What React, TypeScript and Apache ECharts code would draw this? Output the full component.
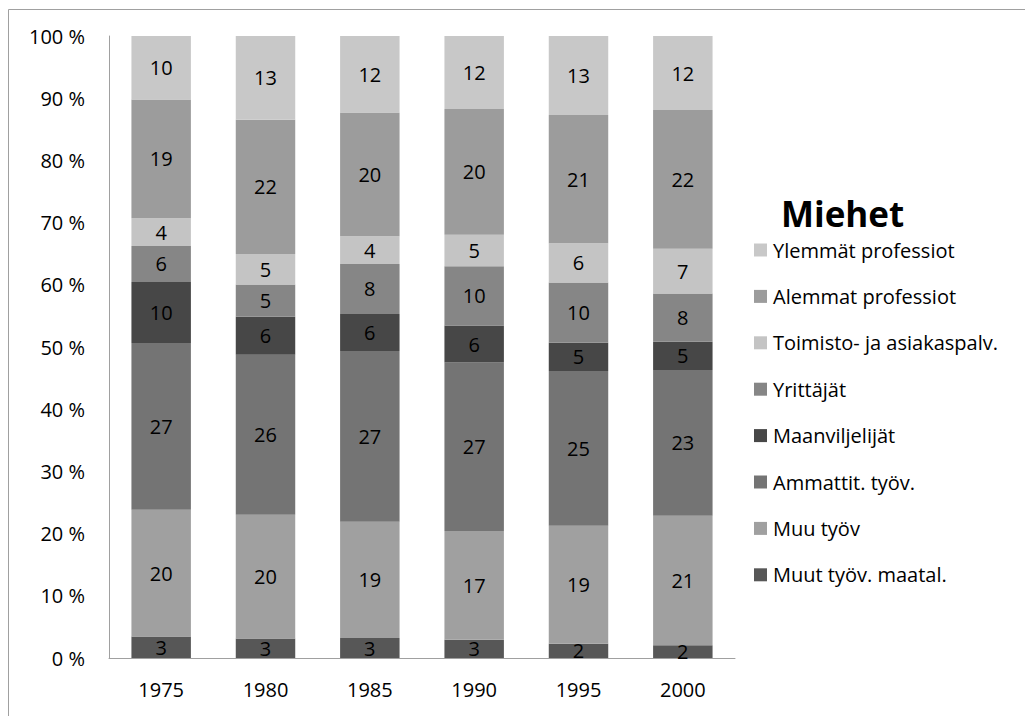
import React, { useEffect, useRef } from "react";
import * as echarts from "echarts";

const years = ["1975", "1980", "1985", "1990", "1995", "2000"];
const yTicks = [0, 10, 20, 30, 40, 50, 60, 70, 80, 90, 100];

// stacked from bottom to top
const muutTyovMaatal = [3.45, 3.15, 3.2, 2.95, 2.3, 2.05];
const muuTyov = [20.4, 19.9, 18.7, 17.45, 18.95, 20.8];
const ammattitTyov = [26.8, 25.7, 27.45, 27.1, 24.9, 23.45];
const maanviljelijat = [9.8, 6.1, 5.95, 5.95, 4.55, 4.55];
const yrittajat = [5.8, 5.2, 8.05, 9.55, 9.65, 7.75];
const toimisto = [4.45, 4.9, 4.45, 5.05, 6.35, 7.2];
const alemmat = [19.1, 21.6, 19.9, 20.2, 20.6, 22.3];
const ylemmat = [10.2, 13.45, 12.3, 11.75, 12.7, 11.9];

const seriesDefs = [
  { name: "Muut työv. maatal.", data: muutTyovMaatal, color: "#575757" },
  { name: "Muu työv", data: muuTyov, color: "#a0a0a0" },
  { name: "Ammattit. työv.", data: ammattitTyov, color: "#747474" },
  { name: "Maanviljelijät", data: maanviljelijat, color: "#474747" },
  { name: "Yrittäjät", data: yrittajat, color: "#868686" },
  { name: "Toimisto- ja asiakaspalv.", data: toimisto, color: "#c4c4c4" },
  { name: "Alemmat professiot", data: alemmat, color: "#9c9c9c" },
  { name: "Ylemmät professiot", data: ylemmat, color: "#c8c8c8" },
];

const FONT = "'Open Sans', 'Noto Sans', sans-serif";

export default function App() {
  const ref = useRef<HTMLDivElement>(null);
  useEffect(() => {
    if (!ref.current) return;
    const chart = echarts.init(ref.current, null, { renderer: "svg" });
    chart.setOption({
      animation: false,
      backgroundColor: "#ffffff",
      textStyle: { fontFamily: FONT },
      title: {
        text: "Miehet",
        left: 781,
        top: 196,
        padding: 0,
        textStyle: { fontFamily: FONT, fontSize: 35, fontWeight: "bold", color: "#000" },
      },
      legend: {
        orient: "vertical",
        left: 754,
        top: 240,
        padding: 0,
        itemWidth: 13,
        itemHeight: 13,
        itemGap: 26.4,
        icon: "rect",
        data: seriesDefs.map((s) => s.name).reverse(),
        textStyle: { fontFamily: FONT, fontSize: 20, lineHeight: 20, color: "#000", padding: [0, 0, 0, 1] },
      },
      graphic: [
        {
          type: "rect",
          shape: { x: 8.5, y: 9.5, width: 1100, height: 800 },
          style: { fill: "none", stroke: "#a0a0a0", lineWidth: 1 },
          silent: true,
        },
      ],
      grid: { left: 109, right: 290, top: 36, bottom: 58, containLabel: false },
      xAxis: {
        type: "category",
        data: years,
        axisLine: { show: true, lineStyle: { color: "#a0a0a0", width: 1 } },
        axisTick: { show: false },
        axisLabel: { fontFamily: FONT, fontSize: 20, color: "#000", margin: 21 },
      },
      yAxis: {
        type: "value",
        min: yTicks[0],
        max: yTicks[yTicks.length - 1],
        interval: 10,
        axisLine: { show: true, lineStyle: { color: "#a0a0a0", width: 1 } },
        axisTick: { show: false },
        splitLine: { show: false },
        axisLabel: { fontFamily: FONT, fontSize: 20, color: "#000", margin: 24, formatter: "{value} %" },
      },
      series: seriesDefs.map((s) => ({
        name: s.name,
        type: "bar",
        stack: "total",
        data: s.data,
        barWidth: "57%",
        itemStyle: { color: s.color },
        label: {
          show: true,
          position: "inside",
          fontFamily: FONT,
          fontSize: 20,
          color: "#000",
          formatter: (p: any) => String(Math.round(p.value)),
        },
      })),
    });
    return () => chart.dispose();
  }, []);
  return (
    <div
      ref={ref}
      style={{ position: "fixed", left: 0, top: 0, width: 1025, height: 716 }}
    />
  );
}
